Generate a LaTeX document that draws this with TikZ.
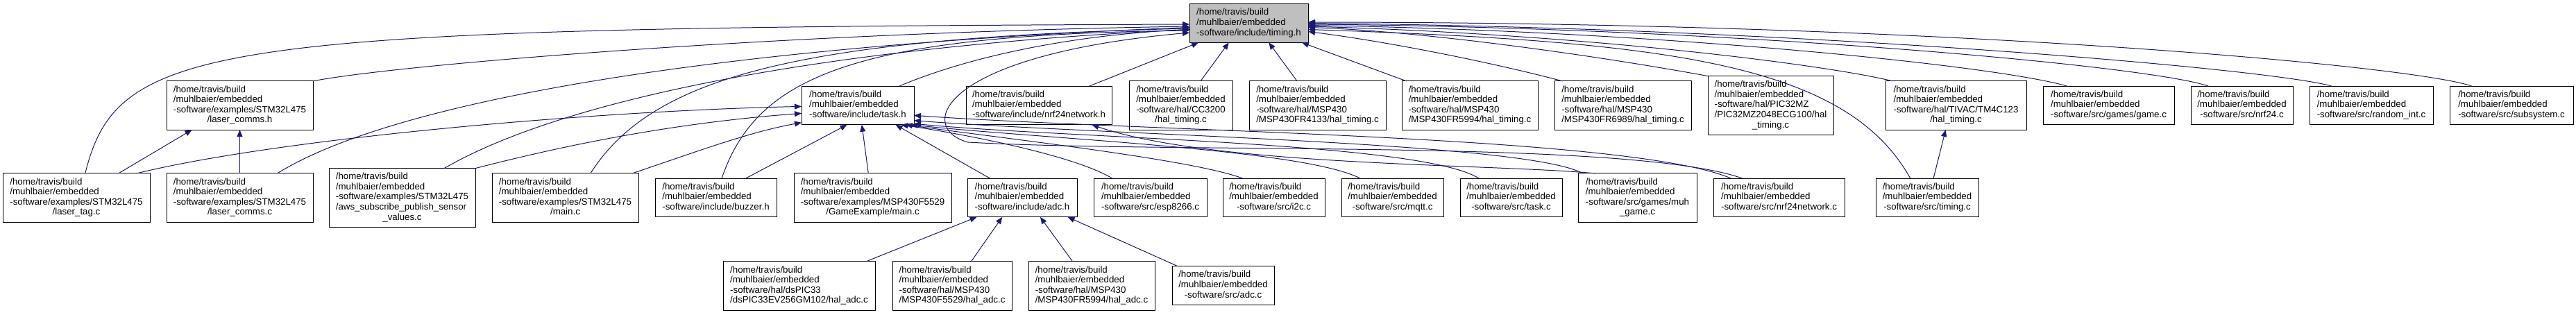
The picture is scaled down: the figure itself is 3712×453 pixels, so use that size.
\documentclass[tikz,border=0pt]{standalone}
\usepackage{fontspec}
\setmainfont{Liberation Sans}
\usetikzlibrary{arrows.meta}
\definecolor{edgeblue}{RGB}{25,25,112}
\definecolor{focusgrey}{RGB}{191,191,191}
\newcommand{\pathtop}{/home/travis/build\\/muhlbaier/embedded}
\newcommand{\fname}[2]{\begin{tabular}{@{}l@{}}#1\\\multicolumn{1}{@{}c@{}}{#2}\end{tabular}}

\begin{document}
\begin{tikzpicture}[
    x=0.75bp, y=-0.75bp,
    >={Triangle[length=7.5bp,width=6bp]},
    file/.style={
        draw=black,
        line width=0.75bp,
        fill=white,
        inner xsep=6bp,
        inner ysep=4.4bp,
        outer sep=0pt,
        font=\fontsize{10}{11}\selectfont
    },
    focus/.style={file, fill=focusgrey},
    boxw/.style={minimum width=#1*0.75bp},
    dep/.style={->, draw=edgeblue, line width=0.75bp}
]
\useasboundingbox (0,0) rectangle (3712,453);

% THE HEADER ITSELF
\node[focus, boxw=171] (timing) at (1799.5,33.5)
{\fname{\pathtop}{-software/include/timing.h}};

% SECOND RANK
\node[file, boxw=211] (lcommsh) at (345.5,152)
{\fname{\pathtop\\-software/examples/STM32L475}{/laser\_comms.h}};

\node[file, boxw=162] (task) at (1236,152)
{\fname{\pathtop}{-software/include/task.h}};

\node[file, boxw=210] (nrfneth) at (1497,152)
{\fname{\pathtop}{-software/include/nrf24network.h}};

\node[file, boxw=149] (cc3200) at (1701.5,152)
{\fname{\pathtop\\-software/hal/CC3200}{/hal\_timing.c}};

\node[file, boxw=197] (fr4133t) at (1898.5,152)
{\fname{\pathtop\\-software/hal/MSP430}{/MSP430FR4133/hal\_timing.c}};

\node[file, boxw=196] (fr5994t) at (2118,152)
{\fname{\pathtop\\-software/hal/MSP430}{/MSP430FR5994/hal\_timing.c}};

\node[file, boxw=197] (fr6989t) at (2338.5,152)
{\fname{\pathtop\\-software/hal/MSP430}{/MSP430FR6989/hal\_timing.c}};

\node[file, boxw=181] (pic32) at (2551.5,152)
{\fname{\pathtop\\-software/hal/PIC32MZ\\/PIC32MZ2048ECG100/hal}{\_timing.c}};

\node[file, boxw=203] (tivac) at (2818.5,152)
{\fname{\pathtop\\-software/hal/TIVAC/TM4C123}{/hal\_timing.c}};

\node[file, boxw=189] (game) at (3038.5,152)
{\fname{\pathtop}{-software/src/games/game.c}};

\node[file, boxw=147] (nrf24) at (3230.5,152)
{\fname{\pathtop}{-software/src/nrf24.c}};

\node[file, boxw=178] (randint) at (3417,152)
{\fname{\pathtop}{-software/src/random\_int.c}};

\node[file, boxw=178] (subsys) at (3619,152)
{\fname{\pathtop}{-software/src/subsystem.c}};

% THIRD RANK
\node[file, boxw=212] (lasertag) at (110,285)
{\fname{\pathtop\\-software/examples/STM32L475}{/laser\_tag.c}};

\node[file, boxw=211] (lcommsc) at (345.5,285)
{\fname{\pathtop\\-software/examples/STM32L475}{/laser\_comms.c}};

\node[file, boxw=211] (aws) at (579.5,285)
{\fname{\pathtop\\-software/examples/STM32L475\\/aws\_subscribe\_publish\_sensor}{\_values.c}};

\node[file, boxw=211] (stmmain) at (814.5,285)
{\fname{\pathtop\\-software/examples/STM32L475}{/main.c}};

\node[file, boxw=175] (buzzer) at (1031.5,285)
{\fname{\pathtop}{-software/include/buzzer.h}};

\node[file, boxw=227] (gameex) at (1257.5,285)
{\fname{\pathtop\\-software/examples/MSP430F5529}{/GameExample/main.c}};

\node[file, boxw=158] (adch) at (1473,285)
{\fname{\pathtop}{-software/include/adc.h}};

\node[file, boxw=163] (esp) at (1657.5,285)
{\fname{\pathtop}{-software/src/esp8266.c}};

\node[file, boxw=147] (i2c) at (1835.5,285)
{\fname{\pathtop}{-software/src/i2c.c}};

\node[file, boxw=147] (mqtt) at (2006.5,285)
{\fname{\pathtop}{-software/src/mqtt.c}};

\node[file, boxw=147] (taskc) at (2177.5,285)
{\fname{\pathtop}{-software/src/task.c}};

\node[file, boxw=171] (muhgame) at (2359.5,285)
{\fname{\pathtop\\-software/src/games/muh}{\_game.c}};

\node[file, boxw=189] (nrfnetc) at (2563.5,285)
{\fname{\pathtop}{-software/src/nrf24network.c}};

\node[file, boxw=148] (timingc) at (2777,285)
{\fname{\pathtop}{-software/src/timing.c}};

% FOURTH RANK
\node[file, boxw=219] (dspic) at (1151.5,412)
{\fname{\pathtop\\-software/hal/dsPIC33}{/dsPIC33EV256GM102/hal\_adc.c}};

\node[file, boxw=172] (f5529a) at (1372,412)
{\fname{\pathtop\\-software/hal/MSP430}{/MSP430F5529/hal\_adc.c}};

\node[file, boxw=182] (fr5994a) at (1573,412)
{\fname{\pathtop\\-software/hal/MSP430}{/MSP430FR5994/hal\_adc.c}};

\node[file, boxw=147] (adcc) at (1762.5,411.5)
{\fname{\pathtop}{-software/src/adc.c}};

% INCLUDES OF timing.h FROM THE LEFT
\draw[dep] (lasertag.70) .. controls (170,60) and (300,40) .. (timing.181);
\draw[dep] (lcommsh.north east) .. controls (560,95) and (1100,48) .. (timing.183);
\draw[dep] (lcommsc.33) .. controls (560,150) and (1000,68) .. (timing.184);
\draw[dep] (aws.35) .. controls (800,150) and (1150,70) .. (timing.186);
\draw[dep] (stmmain.44) .. controls (940,110) and (1150,55) .. (timing.185);
\draw[dep] (buzzer.73) .. controls (1090,110) and (1230,50) .. (timing.187);
\draw[dep] (task.25) .. controls (1400,80) and (1550,50) .. (timing.186);
\draw[dep] (nrfnetc.152) .. controls (2350,200) and (1700,222) .. (1395,205)
    .. controls (1320,185) and (1350,80) .. (timing.189);

% INCLUDES OF timing.h FROM BELOW
\draw[dep] (nrfneth.21) -- (timing.201);
\draw[dep] (cc3200.51) -- (timing.224);
\draw[dep] (fr4133t.130) -- (timing.316);
\draw[dep] (fr5994t.159) -- (timing.340);

% INCLUDES OF timing.h FROM THE RIGHT
\draw[dep] (fr6989t.158) .. controls (2150,90) and (2000,60) .. (timing.352);
\draw[dep] (pic32.north west) .. controls (2300,80) and (2050,45) .. (timing.356);
\draw[dep] (tivac.159) .. controls (2640,95) and (2300,50) .. (timing.357);
\draw[dep] (game.155) .. controls (2880,95) and (2400,45) .. (timing.358);
\draw[dep] (nrf24.150) .. controls (3100,95) and (2500,40) .. (timing.359);
\draw[dep] (randint.154) .. controls (3280,100) and (2600,40) .. (timing.0);
\draw[dep] (subsys.154) .. controls (3480,95) and (2800,32) .. (timing.1);
\draw[dep] (timingc.131) .. controls (2660,90) and (2400,60) .. (timing.354);

% INCLUDES OF task.h
\draw[dep] (lasertag.22) .. controls (400,200) and (850,160) .. (task.181);
\draw[dep] (aws.north east) .. controls (850,200) and (1000,175) .. (task.188);
\draw[dep] (stmmain.20) .. controls (1000,220) and (1080,190) .. (task.197);
\draw[dep] (buzzer.33) -- (task.241);
\draw[dep] (gameex.100) -- (task.282);
\draw[dep] (adch.149) -- (task.333);
\draw[dep] (esp.153) .. controls (1550,225) and (1400,195) .. (task.336);
\draw[dep] (i2c.148) .. controls (1720,230) and (1450,200) .. (task.338);
\draw[dep] (mqtt.149) .. controls (1880,215) and (1500,200) .. (task.340);
\draw[dep] (taskc.149) .. controls (2050,205) and (1550,200) .. (task.342);
\draw[dep] (muhgame.156) .. controls (2200,205) and (1600,195) .. (task.345);
\draw[dep] (nrfnetc.158) .. controls (2350,195) and (1650,190) .. (task.350);

% OTHER HEADERS
\draw[dep] (lasertag.30) -- (lcommsh.207);
\draw[dep] (lcommsc) -- (lcommsh);
\draw[dep] (muhgame.150) .. controls (2150,236) and (1750,240) .. (nrfneth.340);
\draw[dep] (timingc.72) -- (tivac.247);

\draw[dep] (dspic.20) -- (adch.203);
\draw[dep] (f5529a.52) -- (adch.224);
\draw[dep] (fr5994a.128) -- (adch.313);
\draw[dep] (adcc.157) -- (adch.337);

\end{tikzpicture}
\end{document}
